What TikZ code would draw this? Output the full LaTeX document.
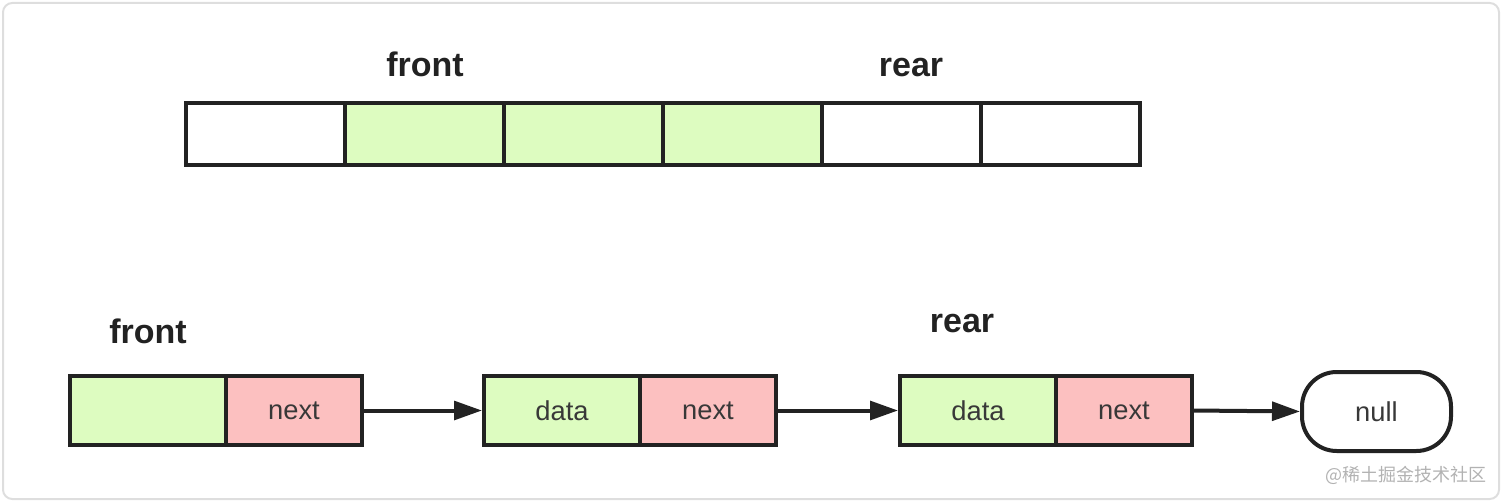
\documentclass[tikz,border=0pt]{standalone}
\usepackage{fontspec}
\setmainfont{Liberation Sans}
\newfontfamily\cjkfont{Noto Sans CJK SC}
\usetikzlibrary{arrows.meta}

\definecolor{cellgreen}{RGB}{221,252,192}
\definecolor{cellpink}{RGB}{252,192,192}
\definecolor{edgeblack}{RGB}{34,34,34}
\definecolor{framegray}{RGB}{222,222,222}

\tikzset{
  cell/.style={draw=edgeblack, line width=3pt, outer sep=0pt, inner sep=0pt, font=\fontsize{20.5}{24}\selectfont, text=edgeblack!90},
  slot/.style={cell, minimum width=119.25pt, minimum height=46.5pt},
  datacell/.style={cell, fill=cellgreen, minimum width=117pt, minimum height=51.75pt},
  nextcell/.style={cell, fill=cellpink, minimum width=102pt, minimum height=51.75pt},
  nullbox/.style={cell, rounded corners=26pt, minimum width=111.75pt, minimum height=59.25pt},
  tag/.style={font=\fontsize{25.5}{30}\selectfont\bfseries, text=edgeblack, inner sep=0pt, anchor=base},
  link/.style={draw=edgeblack, line width=3pt, -{Triangle[length=21pt, width=14pt]}, shorten >=1.5pt},
}

\begin{document}
\begin{tikzpicture}[x=0.75pt,y=0.75pt,yscale=-1,xscale=1]
  \useasboundingbox (0,0) rectangle (1502,502);
  %Shape: Frame
  \draw [draw=framegray, line width=1.5pt, rounded corners=7pt] (3,3) rectangle (1499,499);

  %Shape: Array slots
  \foreach \i in {0,...,5}{
    \ifnum\i>0 \ifnum\i<4 \def\slotfill{cellgreen}\else\def\slotfill{white}\fi\else\def\slotfill{white}\fi
    \node [slot, fill=\slotfill] (s\i) at ({265.5+159*\i},134) {};
  }
  % Text Node
  \node [tag] (afront) at (425,77) {front};
  % Text Node
  \node [tag] (arear) at (911,77) {rear};

  %Shape: List nodes
  \node [datacell, anchor=west] (d1) at (70,410.5) {};
  \node [nextcell, anchor=west] (n1) at (d1.east) {next};
  \node [datacell, anchor=west] (d2) at (484,410.5) {data};
  \node [nextcell, anchor=west] (n2) at (d2.east) {next};
  \node [datacell, anchor=west] (d3) at (900,410.5) {data};
  \node [nextcell, anchor=west] (n3) at (d3.east) {next};
  \node [nullbox] (nil) at (1376.5,411.5) {null};

  %Straight Lines
  \draw [link] (n1.east) -- (d2.west);
  \draw [link] (n2.east) -- (d3.west);
  \draw [link] (n3.east) -- (nil.west);

  % Text Node
  \node [tag] (lfront) at (148,343) {front};
  % Text Node
  \node [tag] (lrear) at (962,332) {rear};
  % Text Node
  \node [anchor=east, inner sep=0pt, text={rgb,255:red,178;green,178;blue,178}, font=\cjkfont\fontsize{13.5}{16}\selectfont] (mark) at (1487,475) {@稀土掘金技术社区};
\end{tikzpicture}
\end{document}
